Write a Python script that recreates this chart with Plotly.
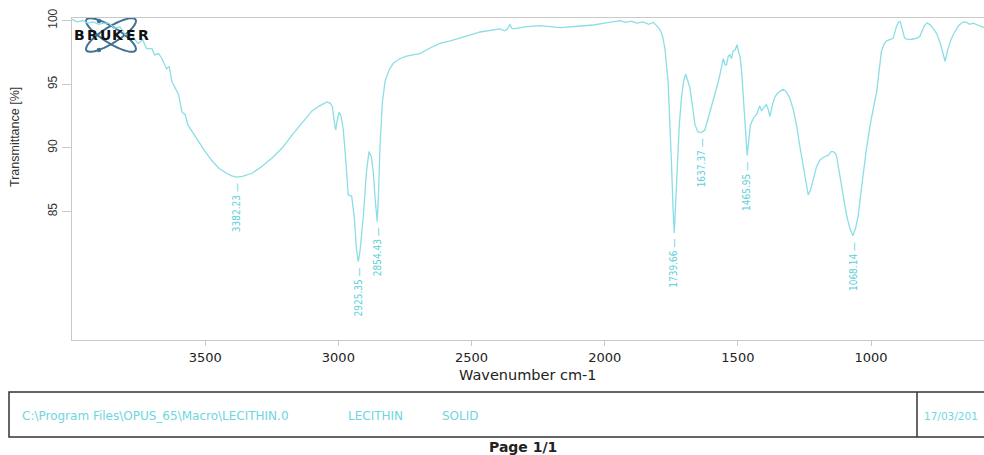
import numpy as np
import plotly.graph_objects as go

# ---------------- data ----------------
wavenumber = [4000, 3980, 3960, 3940, 3920, 3900, 3880, 3862, 3840, 3820, 3800, 3780, 3760, 3750,
              3735, 3720, 3700, 3690, 3675, 3662, 3645, 3635, 3625, 3610, 3600, 3587, 3575, 3565,
              3550, 3525, 3500, 3475, 3449, 3420, 3400, 3382, 3360, 3324, 3290, 3249, 3210, 3174,
              3140, 3099, 3070, 3044, 3030, 3022, 3017, 3010, 3003, 2997, 2990, 2982, 2972, 2963,
              2950, 2940, 2932, 2925, 2918, 2906, 2895, 2885, 2876, 2869, 2862, 2854, 2849, 2844,
              2835, 2825, 2810, 2794, 2770, 2744, 2720, 2694, 2650, 2619, 2580, 2544, 2500, 2468,
              2430, 2393, 2375, 2365, 2356, 2349, 2343, 2300, 2243, 2168, 2100, 2043, 2000, 1980,
              1960, 1943, 1920, 1900, 1880, 1855, 1835, 1818, 1805, 1793, 1783, 1774, 1762, 1755,
              1749, 1744, 1739, 1734, 1728, 1720, 1712, 1704, 1696, 1688, 1680, 1670, 1661, 1650,
              1643, 1637, 1624, 1610, 1593, 1580, 1568, 1560, 1555, 1548, 1543, 1536, 1530, 1524,
              1518, 1510, 1503, 1497, 1492, 1486, 1478, 1474, 1465, 1458, 1453, 1440, 1430, 1418,
              1411, 1405, 1393, 1386, 1380, 1370, 1361, 1350, 1342, 1330, 1318, 1305, 1292, 1280,
              1268, 1255, 1245, 1236, 1227, 1217, 1205, 1192, 1175, 1161, 1150, 1142, 1136, 1130,
              1120, 1111, 1100, 1092, 1080, 1068, 1058, 1048, 1035, 1017, 1000, 990, 979, 970,
              961, 950, 942, 930, 917, 905, 897, 890, 883, 875, 869, 855, 842, 830, 817, 800, 790,
              780, 768, 754, 740, 728, 722, 712, 700, 691, 672, 654, 640, 630, 617, 600, 576]
transmittance = [100.1, 99.9, 100.0, 99.8, 99.9, 99.7, 99.8, 99.8, 99.4, 99.5, 98.9, 99.0, 98.4, 98.2,
                 98.5, 97.8, 97.8, 97.3, 97.4, 97.0, 96.2, 96.4, 95.2, 94.6, 94.2, 92.8, 92.6, 91.8,
                 91.3, 90.5, 89.7, 89.0, 88.4, 88.0, 87.8, 87.7, 87.75, 88.0, 88.5, 89.2, 90.0, 91.0,
                 91.9, 92.9, 93.3, 93.6, 93.5, 93.2, 92.3, 91.4, 92.3, 92.8, 92.5, 91.5, 89.0, 86.3,
                 86.2, 84.5, 82.0, 81.05, 82.0, 84.7, 88.0, 89.7, 89.3, 88.1, 86.0, 84.2, 86.5, 90.0,
                 93.5, 95.2, 96.1, 96.65, 97.0, 97.2, 97.3, 97.4, 97.9, 98.2, 98.4, 98.6, 98.9, 99.1,
                 99.25, 99.35, 99.2, 99.35, 99.7, 99.4, 99.35, 99.5, 99.6, 99.45, 99.55, 99.65, 99.8, 99.85,
                 99.95, 100.0, 99.85, 99.95, 99.8, 99.9, 99.7, 99.85, 99.6, 99.3, 98.8, 97.8, 95.2, 92.0,
                 88.6, 85.5, 83.3, 85.5, 88.65, 91.8, 93.9, 95.2, 95.8, 95.3, 94.7, 93.2, 91.8, 91.25,
                 91.2, 91.2, 91.4, 92.4, 93.6, 94.7, 95.7, 96.6, 97.0, 96.5, 96.5, 97.2, 97.3, 97.0,
                 97.6, 97.7, 98.1, 97.5, 97.2, 96.0, 93.5, 91.8, 89.4, 90.8, 91.8, 92.4, 92.6, 93.3,
                 92.9, 93.1, 93.4, 93.0, 92.45, 93.4, 94.0, 94.3, 94.4, 94.6, 94.4, 93.9, 93.0, 91.8,
                 90.2, 88.65, 87.2, 86.3, 86.7, 87.6, 88.5, 89.05, 89.3, 89.4, 89.7, 89.7, 89.6, 89.4,
                 88.2, 86.8, 85.6, 84.7, 83.7, 83.1, 83.7, 84.7, 87.0, 89.97, 92.2, 93.4, 94.4, 96.0,
                 97.6, 98.2, 98.4, 98.5, 98.6, 99.5, 99.9, 99.9, 99.4, 98.7, 98.55, 98.5, 98.55, 98.6, 98.75, 99.6, 99.8,
                 99.7, 99.4, 99.0, 98.2, 97.2, 96.8, 97.7, 98.5, 98.9, 99.6, 99.9, 99.85, 99.7, 99.8, 99.65, 99.45]

peak_positions = [3382.23, 2925.35, 2854.43, 1739.66, 1637.37, 1465.95, 1068.14]
peak_values = [87.7, 81.05, 84.2, 83.3, 91.2, 89.4, 83.1]

x_tick_vals = [3500, 3000, 2500, 2000, 1500, 1000]
y_tick_vals = [85, 90, 95, 100]

footer_items = ["C:\\Program Files\\OPUS_65\\Macro\\LECITHIN.0", "LECITHIN", "SOLID", "17/03/201"]

# ---------------- layout helpers ----------------
W, H = 984, 455
L, R, T, B = 72, 0, 18, 115
PW, PH = W - L - R, H - T - B
def px(x):
    return (x - L) / PW
def py(y):
    return (H - B - y) / PH

LINE = "#8adee5"
LABEL = "#5ccfd9"
AXIS = "#c9c9c9"
NARROW = "Liberation Sans Narrow, DejaVu Sans Condensed, Arial Narrow, sans-serif"
SANS = "Liberation Sans, Arial, sans-serif"
WIDE = "DejaVu Sans, Verdana, sans-serif"

fig = go.Figure()
fig.add_trace(go.Scatter(x=wavenumber, y=transmittance, mode="lines",
                         line=dict(color=LINE, width=1.3), hoverinfo="skip"))

annotations = []
for wn, tv in zip(peak_positions, peak_values):
    annotations.append(dict(x=wn, y=tv, xref="x", yref="y", text=f"{wn:.2f} —",
                            textangle=-90, showarrow=False, xanchor="center", yanchor="top",
                            yshift=-4, font=dict(family=NARROW, size=10, color=LABEL)))

def page_text(x, y, text, size, color, family=SANS, xanchor="center", angle=0):
    annotations.append(dict(x=px(x), y=py(y), xref="paper", yref="paper", text=text,
                            xanchor=xanchor, yanchor="middle", textangle=angle, showarrow=False,
                            font=dict(family=family, size=size, color=color)))

page_text(15, 137, "Transmittance [%]", 12.5, "#333", angle=-90)
page_text(528, 375, "Wavenumber cm-1", 14.5, "#222", family=WIDE)
page_text(523, 447, "<b>Page 1/1</b>", 14, "#222", family=WIDE)

footer_x = [20, 346, 440, 922]
footer_sizes = [12, 12, 12, 10.5]
for fx, t, fs in zip(footer_x, footer_items, footer_sizes):
    page_text(fx, 416, t, fs, "#6fd6de", family=WIDE, xanchor="left")

# Bruker logo letters
for i, ch in enumerate("BRUKER"):
    page_text(79.5 + i * 12.8, 35, f"<b>{ch}</b>", 14, "#111", family="DejaVu Sans, sans-serif")

shapes = []
# footer box
shapes.append(dict(type="rect", xref="paper", yref="paper", x0=px(9), x1=px(1000), y0=py(437), y1=py(392),
                   line=dict(color="#333", width=1.5), layer="above"))
shapes.append(dict(type="line", xref="paper", yref="paper", x0=px(917), x1=px(917), y0=py(437), y1=py(392),
                   line=dict(color="#333", width=1.5)))

# logo ellipses
def ellipse_path(cx, cy, a, b, ang):
    t = np.linspace(0, 2 * np.pi, 60)
    c, s = np.cos(ang), np.sin(ang)
    xs = cx + a * np.cos(t) * c - b * np.sin(t) * s
    ys = cy + a * np.cos(t) * s + b * np.sin(t) * c
    pts = [f"{px(xx):.5f},{py(yy):.5f}" for xx, yy in zip(xs, ys)]
    return "M" + " L".join(pts) + " Z"
for ang in (np.radians(32), np.radians(-32)):
    shapes.append(dict(type="path", xref="paper", yref="paper", path=ellipse_path(111, 35, 29, 8, ang),
                       line=dict(color="#3f7196", width=2), layer="below"))
for dx, dy in ((99, 21), (99, 50)):
    shapes.append(dict(type="circle", xref="paper", yref="paper", x0=px(dx - 2.2), x1=px(dx + 2.2),
                       y0=py(dy + 2.2), y1=py(dy - 2.2), fillcolor="#3f7196", line=dict(width=0)))

fig.update_layout(
    width=W, height=H, margin=dict(l=L, r=R, t=T, b=B),
    paper_bgcolor="white", plot_bgcolor="white", showlegend=False,
    annotations=annotations, shapes=shapes,
    xaxis=dict(range=[4000, 576], tickvals=x_tick_vals, ticks="outside", ticklen=5, tickcolor=AXIS,
               showline=True, linecolor=AXIS, linewidth=1, mirror=True, showgrid=False, zeroline=False,
               tickfont=dict(family=WIDE, size=13, color="#222")),
    yaxis=dict(range=[74.9, 100.2], tickvals=y_tick_vals, ticks="outside", ticklen=9, tickcolor=AXIS,
               showline=True, linecolor=AXIS, linewidth=1, showgrid=False, zeroline=False, tickangle=-90,
               tickfont=dict(family=SANS, size=12, color="#333")),
)

fig.write_html("out.html")
